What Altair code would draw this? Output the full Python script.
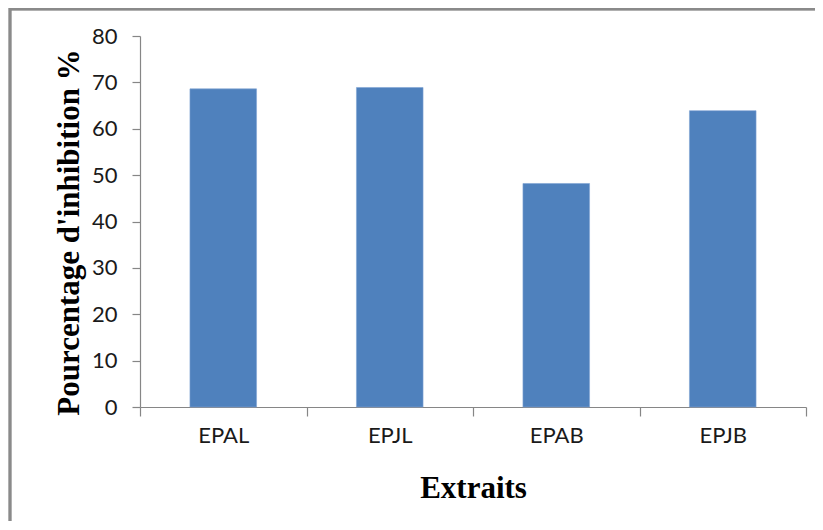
import altair as alt
import pandas as pd

categories = ["EPAL", "EPJL", "EPAB", "EPJB"]
values = [68.6, 68.9, 48.2, 63.9]
y_ticks = [0, 10, 20, 30, 40, 50, 60, 70, 80]

df = pd.DataFrame({"Extrait": categories, "Inhibition": values})

W, H = 666, 371

bars = alt.Chart(df).mark_bar(
    color="#4F81BD", width=alt.RelativeBandSize(0.4), stroke="#7FA3D3", strokeWidth=0.6
).encode(
    x=alt.X(
        "Extrait:N",
        sort=categories,
        scale=alt.Scale(paddingInner=0, paddingOuter=0),
        axis=alt.Axis(
            title="Extraits",
            labelAngle=0,
            tickBand="extent",
            tickSize=9,
            labelPadding=26,
            labelBaseline="alphabetic",
            labelFont="Lato",
            labelFontSize=22,
            labelColor="#1a1a1a",
            titleFont="Liberation Serif",
            titleFontSize=31,
            titleFontWeight="bold",
            titleColor="#000000",
            titleBaseline="alphabetic",
            titleY=90,
            titleX=W / 2,
            domainColor="#868686",
            tickColor="#868686",
            domainWidth=1.2,
            tickWidth=1.2,
        ),
    ),
    y=alt.Y(
        "Inhibition:Q",
        scale=alt.Scale(domain=[0, 80], nice=False),
        axis=alt.Axis(
            title="Pourcentage d'inhibition %",
            values=y_ticks,
            grid=False,
            tickSize=8,
            labelPadding=15,
            labelFont="Lato",
            labelFontSize=22,
            labelColor="#1a1a1a",
            titleFont="Liberation Serif",
            titleFontSize=31,
            titleFontWeight="bold",
            titleColor="#000000",
            titleBaseline="alphabetic",
            titleAngle=-90,
            titleAlign="center",
            titleX=-62,
            titleY=196,
            domainColor="#868686",
            tickColor="#868686",
            domainWidth=1.2,
            tickWidth=1.2,
        ),
    ),
)

frame = alt.Chart(df).mark_rect(
    fill=None, stroke="#8a8a8a", strokeWidth=2.5, clip=False
).encode(
    x=alt.value(-130),
    x2=alt.value(W + 200),
    y=alt.value(-27),
    y2=alt.value(H + 300),
)

chart = alt.layer(frame, bars).properties(
    width=W,
    height=H,
    padding={"left": 132, "top": 28, "right": 9, "bottom": 114},
    autosize=alt.AutoSizeParams(type="none"),
    background="white",
).configure_view(stroke=None)

chart.save("out.html", embed_options={"renderer": "svg", "actions": False})
